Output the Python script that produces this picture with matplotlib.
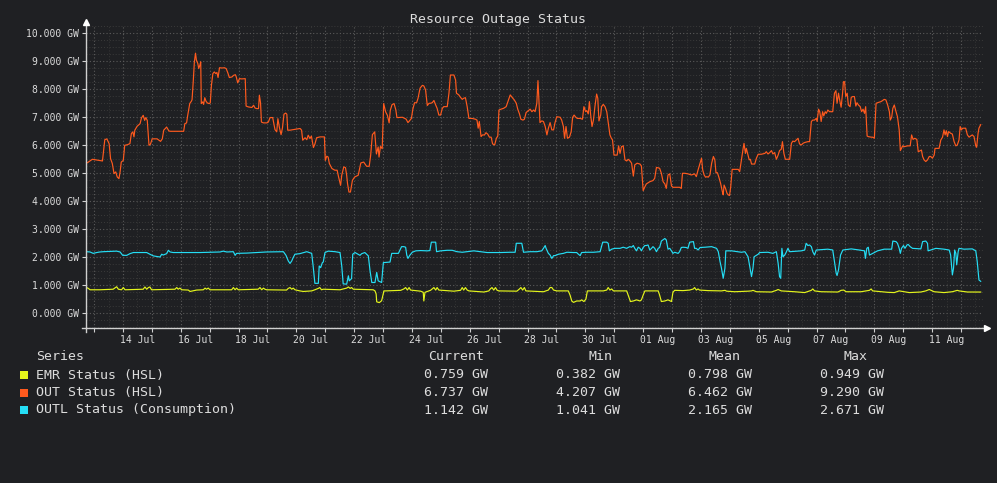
import matplotlib
matplotlib.use("Agg")
import matplotlib.pyplot as plt
from matplotlib.ticker import FixedLocator, MultipleLocator, FuncFormatter
from matplotlib.patches import Rectangle

plt.rcParams["font.family"] = ["DejaVu Sans Mono", "DejaVu Sans"]

# ---------------- data (time in days since 12 Jul 00:00, values in GW) ----------------
out_pts = [
    (0.77,5.38),(0.94,5.50),(1.29,5.44),(1.37,6.20),(1.44,6.23),(1.52,6.06),(1.57,5.52),(1.63,5.35),(1.69,4.99),
    (1.75,5.05),(1.80,4.87),(1.86,4.81),(1.90,5.05),(1.94,5.40),(2.01,5.46),(2.06,6.00),(2.15,6.02),(2.24,6.06),
    (2.29,6.42),(2.34,6.48),(2.38,6.30),(2.41,6.54),(2.49,6.68),(2.59,6.77),(2.64,6.98),(2.70,7.07),(2.75,6.89),
    (2.79,6.99),(2.84,6.89),(2.90,6.00),(2.95,6.04),(3.01,6.23),(3.18,6.23),(3.30,6.14),(3.36,6.23),(3.41,6.54),
    (3.51,6.65),(3.59,6.51),(3.64,6.50),(4.10,6.50),(4.14,6.77),(4.20,6.80),(4.24,7.07),(4.31,7.49),(4.37,7.58),
    (4.39,7.63),(4.43,8.26),(4.47,8.98),(4.51,9.29),(4.54,9.04),(4.59,8.92),(4.62,8.74),(4.66,8.86),(4.69,8.98),
    (4.71,7.49),(4.76,7.55),(4.79,7.46),(4.83,7.70),(4.87,7.58),(4.92,7.51),(4.98,7.49),(5.02,7.51),(5.06,8.14),
    (5.11,8.56),(5.16,8.62),(5.21,8.56),(5.25,8.60),(5.29,8.42),(5.34,8.77),(5.43,8.76),(5.51,8.77),(5.57,8.74),
    (5.63,8.58),(5.68,8.42),(5.77,8.44),(5.83,8.50),(5.89,8.52),(5.92,8.44),(5.97,8.23),(6.03,8.38),(6.11,8.37),
    (6.23,8.38),(6.26,7.40),(6.34,7.37),(6.46,7.35),(6.52,7.43),(6.57,7.33),(6.63,7.31),(6.69,7.31),(6.72,7.79),
    (6.76,7.51),(6.79,6.83),(6.86,6.80),(6.98,6.80),(7.03,6.83),(7.09,6.99),(7.18,6.99),(7.26,6.56),(7.32,6.48),
    (7.36,6.95),(7.41,6.65),(7.47,6.38),(7.52,6.63),(7.57,7.11),(7.63,7.15),(7.67,7.11),(7.70,6.54),(7.78,6.54),
    (8.13,6.60),(8.18,6.54),(8.22,6.18),(8.30,6.27),(8.36,6.20),(8.41,6.36),(8.47,6.24),(8.52,6.33),(8.59,5.92),
    (8.64,6.04),(8.70,6.27),(8.82,6.30),(8.97,6.30),(9.00,5.46),(9.05,5.61),(9.10,5.58),(9.14,5.35),(9.23,5.17),
    (9.33,5.11),(9.41,5.11),(9.46,4.87),(9.53,4.57),(9.57,4.93),(9.64,5.23),(9.70,5.20),(9.74,4.93),(9.77,4.63),
    (9.82,4.33),(9.87,4.33),(9.94,4.75),(10.02,4.87),(10.14,4.93),(10.23,5.37),(10.33,5.40),(10.43,5.25),
    (10.52,5.25),(10.57,5.64),(10.63,6.38),(10.71,6.48),(10.77,5.69),(10.83,5.94),(10.86,5.58),(10.91,5.96),
    (10.97,5.88),(11.02,7.49),(11.09,7.19),(11.15,7.07),(11.21,6.80),(11.25,7.25),(11.31,7.45),(11.38,7.49),
    (11.44,7.27),(11.48,6.99),
    (11.67,7.00),(11.75,6.96),(11.80,6.93),(11.86,6.81),(11.92,6.88),(11.98,6.96),(12.03,7.29),(12.09,7.52),
    (12.16,7.52),(12.21,7.68),(12.28,8.04),(12.36,8.14),(12.41,8.12),(12.47,7.98),(12.53,7.42),(12.59,7.50),
    (12.64,7.50),(12.70,7.52),(12.76,7.60),(12.82,7.44),(12.87,7.32),(12.93,7.08),(12.99,7.08),(13.05,7.32),
    (13.10,7.38),(13.22,7.38),(13.28,7.86),(13.33,8.51),(13.45,8.51),(13.51,8.33),(13.54,7.86),(13.62,7.80),
    (13.68,7.71),(13.74,7.64),(13.79,7.68),(13.85,7.70),(13.91,7.38),(13.97,6.96),(14.08,6.96),(14.20,6.93),
    (14.25,6.90),(14.29,6.61),(14.33,6.85),(14.39,6.31),(14.44,6.37),(14.51,6.37),(14.56,6.45),(14.62,6.40),
    (14.68,6.29),(14.74,6.29),(14.79,6.05),(14.86,6.01),(14.92,6.25),(14.97,6.33),(15.01,7.26),(15.08,7.29),
    (15.17,7.32),(15.26,7.38),(15.34,7.62),(15.40,7.80),(15.49,7.68),(15.54,7.62),(15.61,7.50),(15.66,7.29),
    (15.72,7.12),(15.77,6.93),(15.84,6.90),(15.89,6.93),(15.95,7.17),(16.03,7.24),(16.09,7.29),(16.15,7.20),
    (16.21,7.26),(16.26,7.20),(16.32,7.50),(16.36,8.31),(16.39,7.68),(16.43,6.81),(16.49,6.87),(16.55,6.85),
    (16.61,6.67),(16.67,6.37),(16.72,6.61),(16.78,6.81),(16.84,6.55),(16.90,6.55),(16.95,6.81),(17.01,7.02),
    (17.13,7.00),(17.18,6.90),(17.24,6.67),(17.28,6.25),(17.33,6.67),(17.38,6.25),(17.45,6.29),(17.51,6.49),
    (17.56,7.00),(17.61,7.08),(17.67,7.00),(17.72,6.96),(17.82,6.96),(17.90,6.93),(17.95,7.38),(18.01,7.20),
    (18.05,7.24),(18.10,7.12),(18.14,7.56),(18.18,7.12),(18.23,6.67),(18.28,6.90),(18.33,7.38),(18.39,7.83),
    (18.43,7.68),(18.47,6.87),(18.53,7.08),(18.56,7.38),(18.62,7.46),(18.68,7.38),(18.74,7.20),(18.79,6.81),
    (18.85,6.37),(18.90,6.25),(18.94,6.19),(18.99,5.65),(19.10,5.65),(19.15,5.98),(19.20,5.71),(19.25,5.95),
    (19.31,5.98),(19.37,5.48),(19.43,5.44),(19.48,5.50),(19.54,5.45),(19.60,5.36),(19.66,4.90),(19.71,5.30),
    (19.79,5.36),(19.89,5.33),(19.94,5.26),(20.00,4.38),(20.06,4.52),(20.11,4.62),(20.23,4.70),(20.34,4.74),
    (20.40,4.82),(20.46,5.21),(20.57,5.18),(20.63,5.00),(20.69,4.70),(20.75,4.62),(20.80,4.46),(20.86,4.94),
    (20.92,4.98),(20.98,4.55),(21.03,4.50),(21.15,4.50),(21.26,4.50),(21.32,4.46),(21.36,5.00),(21.44,5.00),
    (21.55,4.98),(21.67,4.94),(21.78,4.98),(21.84,4.88),(21.90,5.12),
    (22.02,5.54),(22.06,5.12),(22.11,4.94),(22.16,4.86),(22.21,4.88),(22.25,4.86),(22.31,4.94),(22.37,5.36),
    (22.43,5.60),(22.48,5.48),(22.52,5.02),(22.57,5.02),(22.62,4.86),(22.68,4.64),(22.74,4.35),(22.77,4.23),
    (22.80,4.58),(22.85,4.46),(22.90,4.29),(22.94,4.23),(22.99,4.207),(23.03,4.52),(23.08,5.14),(23.17,5.14),
    (23.29,5.14),(23.34,5.06),(23.40,5.48),(23.46,5.89),(23.49,6.07),(23.54,5.71),(23.57,5.89),(23.63,5.65),
    (23.67,5.48),(23.71,5.50),(23.75,5.33),(23.86,5.33),(23.92,5.54),(23.98,5.68),(24.09,5.68),(24.21,5.71),
    (24.26,5.77),(24.32,5.69),(24.38,5.74),(24.44,5.81),(24.49,5.69),(24.55,5.74),(24.61,5.50),(24.67,5.65),
    (24.72,5.81),(24.78,5.86),(24.82,6.13),(24.87,5.71),(24.92,5.50),(25.01,5.50),(25.07,5.50),(25.13,6.07),
    (25.18,6.15),(25.24,6.13),(25.30,6.19),(25.36,6.25),(25.41,6.05),(25.47,6.01),(25.53,6.07),(25.59,6.10),
    (25.70,6.13),(25.76,6.13),(25.82,6.85),(25.87,6.90),(25.93,6.90),(25.99,6.96),(26.02,6.85),(26.07,7.29),
    (26.11,7.20),(26.16,6.85),(26.21,7.20),(26.25,7.05),(26.30,7.20),(26.34,7.14),(26.39,7.26),(26.45,7.20),
    (26.56,7.20),(26.62,7.86),(26.67,7.95),(26.71,7.50),(26.76,7.86),(26.80,7.62),(26.85,7.36),(26.90,7.86),
    (26.93,8.27),(26.97,8.27),(27.01,7.74),(27.06,7.86),(27.10,7.44),(27.16,7.38),(27.20,7.71),(27.25,7.74),
    (27.31,7.74),(27.36,7.40),(27.40,7.52),(27.45,7.44),(27.51,7.38),(27.56,7.20),(27.61,7.29),(27.66,7.14),
    (27.70,7.38),(27.75,6.33),(27.79,6.31),(27.89,6.29),(27.94,6.29),(28.00,6.25),(28.06,7.50),(28.11,7.52),
    (28.23,7.56),(28.29,7.60),(28.34,7.64),(28.40,7.62),(28.46,7.44),(28.52,7.20),(28.55,6.90),(28.60,7.00),
    (28.64,7.32),(28.69,7.44),(28.75,7.20),(28.80,7.02),(28.86,6.55),(28.90,5.81),(28.98,5.98),(29.03,5.95),
    (29.15,5.98),(29.24,5.98),(29.29,6.37),(29.34,6.21),(29.40,6.25),(29.47,6.21),(29.52,5.77),(29.59,5.81),
    (29.63,5.83),(29.67,5.60),(29.72,5.48),(29.78,5.42),(29.84,5.48),(29.90,5.60),(29.95,5.60),(30.01,5.54),
    (30.07,5.65),(30.10,5.89),(30.18,5.89),(30.24,5.89),(30.30,6.19),(30.36,6.29),(30.41,6.55),(30.45,6.37),
    (30.49,6.52),(30.53,6.31),(30.57,6.49),(30.64,6.43),(30.70,6.40),(30.76,6.13),(30.82,5.98),(30.87,6.01),
    (30.93,6.19),(30.97,6.67),(31.01,6.55),(31.06,6.61),(31.10,6.61),(31.16,6.61),(31.22,6.37),(31.28,6.29),
    (31.33,6.33),(31.39,6.37),(31.45,6.31),(31.51,5.98),(31.54,5.93),(31.59,6.43),(31.62,6.61),(31.68,6.737),
]

outl_pts = [
    (0.74,2.20),(0.86,2.19),(0.97,2.14),(1.09,2.17),(1.20,2.19),(1.32,2.20),(1.55,2.21),(1.78,2.22),(1.90,2.19),
    (1.99,2.07),(2.13,2.07),(2.24,2.13),(2.36,2.17),(2.82,2.17),(2.93,2.11),(3.05,2.05),(3.28,2.01),(3.34,2.11),
    (3.39,2.08),(3.51,2.13),(3.57,2.25),(3.63,2.19),(3.74,2.17),(4.20,2.17),(4.66,2.17),(5.36,2.19),(5.47,2.22),
    (5.59,2.19),(5.82,2.20),(5.88,2.07),(5.93,2.14),(6.28,2.15),(6.97,2.19),(7.55,2.20),(7.64,2.07),(7.72,1.87),
    (7.78,1.78),(7.84,1.87),(7.89,1.99),(7.95,2.11),(8.12,2.13),(8.36,2.20),(8.53,2.14),(8.58,1.69),(8.64,1.07),
    (8.76,1.07),(8.79,1.69),(8.84,1.63),(8.90,1.81),(8.93,1.83),(8.99,2.17),(9.10,2.22),(9.34,2.20),(9.51,2.17),
    (9.57,1.69),(9.62,1.05),(9.74,1.041),(9.80,1.34),(9.83,1.16),(9.91,1.24),(9.95,2.11),(10.03,2.17),(10.20,2.07),
    (10.26,2.13),(10.37,2.17),(10.49,2.05),(10.55,1.51),(10.61,1.10),(10.72,1.10),(10.78,1.46),(10.83,1.16),
    (10.95,1.10),(11.01,1.81),(11.24,1.83),(11.30,2.14),(11.53,2.14),
    (11.64,2.38),(11.72,2.38),(11.78,2.36),(11.82,2.08),(11.86,1.96),(11.93,2.08),(12.01,2.18),(12.13,2.23),
    (12.30,2.24),(12.53,2.23),(12.62,2.24),(12.67,2.54),(12.82,2.54),(12.85,2.20),(12.99,2.23),(13.22,2.25),
    (13.39,2.25),(13.56,2.20),(13.74,2.18),(13.91,2.20),(14.14,2.23),(14.37,2.20),(14.60,2.17),(15.06,2.17),
    (15.40,2.18),(15.57,2.18),(15.61,2.50),(15.80,2.50),(15.86,2.18),(16.09,2.20),(16.32,2.20),(16.49,2.23),
    (16.55,2.32),(16.61,2.42),(16.64,2.32),(16.72,2.14),(16.78,2.08),(16.84,1.96),(16.90,2.06),(16.95,2.06),
    (17.07,2.11),(17.24,2.14),(17.36,2.18),(17.59,2.17),(17.70,2.17),(17.76,2.11),(17.82,2.06),(17.87,2.17),
    (18.05,2.18),(18.28,2.18),(18.51,2.20),(18.60,2.54),(18.74,2.54),(18.79,2.50),(18.83,2.23),(18.91,2.29),
    (19.02,2.32),(19.20,2.32),(19.31,2.36),(19.43,2.32),(19.48,2.35),(19.54,2.38),(19.60,2.36),(19.66,2.42),
    (19.71,2.32),(19.77,2.23),(19.83,2.36),(19.89,2.32),(19.94,2.23),(20.00,2.35),(20.06,2.42),(20.11,2.42),
    (20.17,2.44),(20.23,2.26),(20.29,2.32),(20.34,2.38),(20.40,2.32),(20.46,2.20),(20.52,2.32),(20.57,2.35),
    (20.63,2.58),(20.75,2.671),(20.80,2.62),(20.86,2.29),(20.92,2.32),(20.98,2.23),(21.03,2.14),(21.09,2.18),
    (21.21,2.14),(21.26,2.20),(21.32,2.35),(21.38,2.36),(21.49,2.35),(21.55,2.32),(21.61,2.54),(21.74,2.56),
    (21.78,2.32),(21.84,2.32),(21.90,2.26),(21.97,2.35),
    (22.14,2.36),(22.37,2.38),(22.54,2.32),(22.60,2.20),(22.66,1.85),(22.71,1.61),(22.77,1.25),(22.83,1.61),
    (22.86,2.23),(23.06,2.23),(23.40,2.18),(23.52,2.20),(23.63,2.02),(23.69,1.67),(23.75,1.31),(23.80,1.61),
    (23.84,2.02),(23.98,2.11),(24.03,2.17),(24.32,2.18),(24.49,2.14),(24.61,2.20),(24.67,1.79),(24.72,1.31),
    (24.76,1.25),(24.80,2.32),(24.84,2.02),(24.90,2.08),(24.95,2.18),(25.01,2.32),(25.07,2.20),(25.47,2.23),
    (25.59,2.26),(25.64,2.50),(25.70,2.42),(25.76,2.44),(25.82,2.38),(25.87,2.20),(25.93,2.08),(25.99,2.26),
    (26.39,2.29),(26.56,2.26),(26.62,1.85),(26.68,1.43),(26.71,1.35),(26.76,1.55),(26.83,2.08),(26.91,2.26),
    (27.20,2.30),(27.48,2.26),(27.66,2.23),(27.69,1.96),(27.74,2.32),(27.79,2.36),(27.83,2.08),(27.89,2.11),
    (28.11,2.23),(28.34,2.29),(28.60,2.29),(28.64,2.58),(28.75,2.56),(28.80,2.50),(28.86,2.32),(28.90,2.14),
    (28.94,2.32),(29.01,2.42),(29.06,2.32),(29.13,2.44),(29.17,2.46),(29.24,2.38),(29.32,2.32),(29.61,2.30),
    (29.67,2.56),(29.78,2.58),(29.84,2.50),(29.86,2.23),(30.13,2.32),(30.41,2.29),(30.59,2.26),(30.64,2.08),
    (30.70,1.37),(30.74,1.61),(30.78,2.26),(30.82,2.14),(30.85,1.73),(30.90,2.20),(30.93,2.32),(31.10,2.29),
    (31.39,2.30),(31.51,2.23),(31.56,1.85),(31.62,1.19),(31.68,1.142),
]

emr_pts = [
    (0.74,0.92),(0.80,0.89),(0.86,0.84),(1.20,0.84),(1.66,0.86),(1.78,0.949),(1.84,0.86),(1.95,0.84),(2.01,0.92),
    (2.07,0.84),(2.70,0.86),(2.76,0.94),(2.82,0.86),(2.88,0.92),(2.93,0.94),(2.99,0.84),(3.80,0.86),(3.86,0.92),
    (3.91,0.86),(3.97,0.90),(4.03,0.84),(4.26,0.83),(4.32,0.78),(4.55,0.83),(4.78,0.84),(4.84,0.90),(4.89,0.86),
    (4.95,0.90),(5.01,0.84),(5.76,0.84),(5.82,0.92),(5.88,0.84),(5.93,0.90),(5.99,0.84),(6.68,0.86),(6.74,0.92),
    (6.80,0.84),(6.86,0.90),(6.91,0.86),(6.97,0.84),(7.66,0.83),(7.72,0.89),(7.78,0.92),(7.84,0.86),(7.89,0.90),
    (7.95,0.84),(8.12,0.80),(8.24,0.78),(8.53,0.80),(8.64,0.84),(8.76,0.89),(8.81,0.92),(8.87,0.84),(8.93,0.86),
    (9.51,0.84),(9.74,0.90),(9.80,0.94),(9.86,0.89),(9.91,0.92),(9.97,0.86),(10.66,0.84),(10.72,0.80),
    (10.76,0.69),(10.78,0.41),(10.87,0.382),(10.95,0.45),(10.99,0.63),(11.03,0.80),
    (11.09,0.80),(11.61,0.82),(11.72,0.87),(11.78,0.92),(11.84,0.83),(11.90,0.92),(11.95,0.83),(12.30,0.79),
    (12.39,0.75),(12.41,0.44),(12.45,0.75),(12.64,0.82),(12.70,0.87),(12.76,0.92),(12.82,0.83),(12.87,0.92),
    (12.93,0.83),(13.45,0.79),(13.68,0.82),(13.74,0.92),(13.79,0.83),(13.85,0.92),(13.91,0.83),(13.97,0.80),
    (14.49,0.76),(14.66,0.80),(14.71,0.87),(14.77,0.92),(14.83,0.83),(14.89,0.92),(14.94,0.83),(15.00,0.80),
    (15.63,0.79),(15.72,0.87),(15.77,0.92),(15.83,0.83),(15.89,0.92),(15.94,0.80),(16.55,0.77),(16.72,0.83),
    (16.78,0.92),(16.84,0.92),(16.90,0.83),(17.01,0.80),(17.41,0.80),(17.47,0.65),(17.53,0.44),(17.59,0.39),
    (17.70,0.44),(17.82,0.44),(17.87,0.48),(17.95,0.42),(18.02,0.51),(18.07,0.80),(18.62,0.80),(18.74,0.83),
    (18.79,0.92),(18.85,0.83),(18.91,0.87),(18.97,0.80),(19.43,0.80),(19.48,0.65),(19.56,0.42),(19.66,0.44),
    (19.77,0.48),(19.89,0.44),(19.94,0.48),(20.00,0.65),(20.06,0.80),(20.52,0.80),(20.57,0.65),(20.63,0.42),
    (20.75,0.44),(20.86,0.48),(20.98,0.42),(21.03,0.75),(21.09,0.82),(21.38,0.81),(21.61,0.83),(21.74,0.87),
    (21.78,0.92),(21.84,0.83),(21.90,0.87),(21.95,0.83),
    (22.25,0.81),(22.71,0.80),(22.83,0.82),(22.89,0.79),(23.17,0.77),(23.63,0.79),(23.75,0.80),(23.80,0.82),
    (23.92,0.77),(24.44,0.76),(24.61,0.82),(24.67,0.85),(24.78,0.80),(25.24,0.77),(25.59,0.74),(25.76,0.80),
    (25.82,0.82),(25.87,0.87),(25.93,0.80),(26.16,0.77),(26.74,0.76),(26.85,0.82),(26.94,0.83),(27.02,0.77),
    (27.54,0.77),(27.71,0.80),(27.83,0.82),(27.89,0.87),(27.94,0.80),(28.46,0.75),(28.69,0.74),(28.86,0.80),
    (29.03,0.77),(29.21,0.74),(29.61,0.76),(29.78,0.80),(29.90,0.85),(30.07,0.77),(30.41,0.74),(30.70,0.77),
    (30.87,0.82),(30.93,0.80),(31.22,0.76),(31.68,0.759),
]

t_out, v_out = zip(*out_pts)
t_outl, v_outl = zip(*outl_pts)
t_emr, v_emr = zip(*emr_pts)

series_names = ["EMR Status (HSL)", "OUT Status (HSL)", "OUTL Status (Consumption)"]
series_colors = ["#e4f51c", "#ff5a1e", "#25def5"]
stat_headers = ["Current", "Min", "Mean", "Max"]
stat_values = [
    ["0.759 GW", "0.382 GW", "0.798 GW", "0.949 GW"],
    ["6.737 GW", "4.207 GW", "6.462 GW", "9.290 GW"],
    ["1.142 GW", "1.041 GW", "2.165 GW", "2.671 GW"],
]
x_label_pos = [2.5, 4.5, 6.5, 8.5, 10.5, 12.5, 14.5, 16.5, 18.5, 20.5, 22.5, 24.5, 26.5, 28.5, 30.5]
x_labels = ["14 Jul", "16 Jul", "18 Jul", "20 Jul", "22 Jul", "24 Jul", "26 Jul", "28 Jul",
            "30 Jul", "01 Aug", "03 Aug", "05 Aug", "07 Aug", "09 Aug", "11 Aug"]
title = "Resource Outage Status"

# ---------------- style ----------------
BG = "#1f2023"
TXT = "#dcdcdc"
AXC = "#d0d0d0"
W, H = 997, 483

fig = plt.figure(figsize=(W / 100, H / 100), dpi=100, facecolor=BG)
ax = fig.add_axes([86 / W, 1 - 328 / H, (983 - 86) / W, (328 - 26) / H])
ax.set_facecolor(BG)
ax.set_xlim(0.72, 31.76)
ax.set_ylim(-0.525, 10.26)

for s in ax.spines.values():
    s.set_visible(False)

# y axis
ax.yaxis.set_major_locator(MultipleLocator(1))
ax.yaxis.set_minor_locator(MultipleLocator(0.25))
ax.yaxis.set_major_formatter(FuncFormatter(lambda v, p: f"{v:.3f} GW"))
ax.tick_params(axis="y", which="major", length=3, width=0.8, color=AXC, pad=2,
               labelsize=7, labelcolor=TXT)
ax.tick_params(axis="y", which="minor", length=0)

# x axis
ax.xaxis.set_major_locator(FixedLocator(list(range(1, 32))))
ax.xaxis.set_minor_locator(FixedLocator(x_label_pos))
ax.set_xticklabels([], minor=False)
ax.set_xticklabels(x_labels, minor=True)
ax.tick_params(axis="x", which="major", length=3, width=0.8, color=AXC, labelbottom=False)
ax.tick_params(axis="x", which="minor", length=0, pad=5, labelsize=7, labelcolor=TXT)

ax.grid(which="major", axis="both", color="#5a5a5a", linestyle=(0, (1, 2)), linewidth=0.8)
ax.grid(which="minor", axis="y", color="#3a3a3a", linestyle=(0, (1, 2)), linewidth=0.7)
# faint half-day vertical grid
for d in range(1, 32):
    ax.axvline(d + 0.5, color="#363636", linestyle=(0, (1, 2)), linewidth=0.7, zorder=0.5)
ax.set_axisbelow(True)

# series
ax.plot(t_emr, v_emr, color=series_colors[0], lw=0.85, zorder=3)
ax.plot(t_out, v_out, color=series_colors[1], lw=0.85, zorder=3)
ax.plot(t_outl, v_outl, color=series_colors[2], lw=0.85, zorder=3)

# axis lines with arrows
ax.plot([0, 0], [-0.013, 1.010], transform=ax.transAxes, color=AXC, lw=1, clip_on=False, zorder=4)
ax.plot([0], [1.012], marker="^", ms=4, color="white", transform=ax.transAxes, clip_on=False, zorder=4)
ax.plot([-0.004, 1.003], [0, 0], transform=ax.transAxes, color=AXC, lw=1, clip_on=False, zorder=4)
ax.plot([1.005], [0], marker=">", ms=4, color="white", transform=ax.transAxes, clip_on=False, zorder=4)

# title
fig.text(498 / W, 1 - 19 / H, title, ha="center", va="center", fontsize=9.5, color=TXT)

# legend table
def fx(px):
    return px / W

def fy(py):
    return 1 - py / H

fig.text(fx(36), fy(357), "Series", ha="left", va="center", fontsize=9.5, color=TXT)
header_x = [428, 588, 708, 843]
value_x = [424, 556, 688, 820]
for hx, h in zip(header_x, stat_headers):
    fig.text(fx(hx), fy(357), h, ha="left", va="center", fontsize=9.5, color=TXT)
row_y = [375, 392.5, 410]
for i, (name, col) in enumerate(zip(series_names, series_colors)):
    y = row_y[i]
    fig.patches.append(Rectangle((fx(20), fy(y + 4)), 8 / W, 8 / H, transform=fig.transFigure,
                                 facecolor=col, edgecolor="none"))
    fig.text(fx(36), fy(y), name, ha="left", va="center", fontsize=9.5, color=TXT)
    for vx, val in zip(value_x, stat_values[i]):
        fig.text(fx(vx), fy(y), val, ha="left", va="center", fontsize=9.5, color=TXT)

fig.savefig("out.png", dpi=100, facecolor=BG)
